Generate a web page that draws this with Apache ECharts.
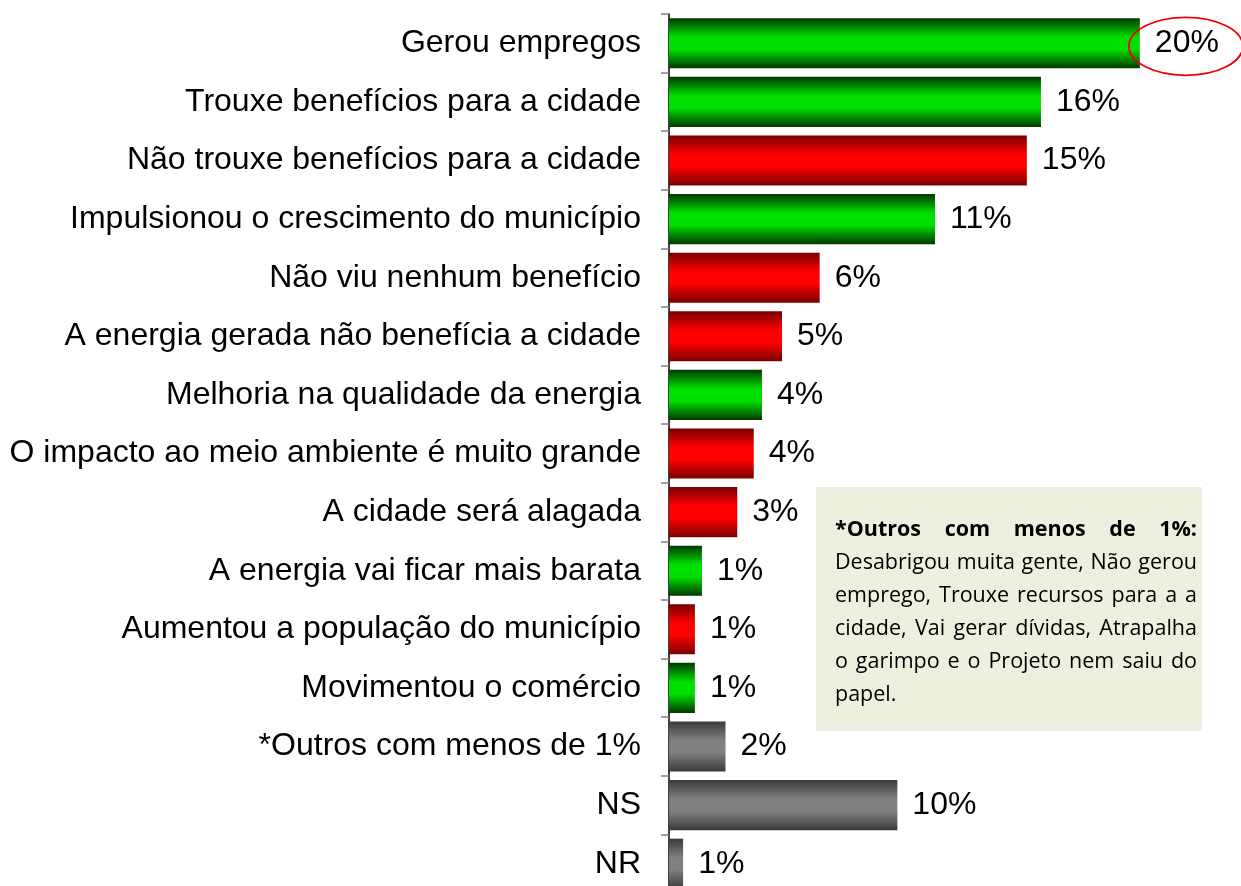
<!DOCTYPE html>
<html>
<head>
<meta charset="utf-8">
<script src="https://cdn.jsdelivr.net/npm/echarts@6/dist/echarts.min.js"></script>
<style>
  html, body { margin: 0; padding: 0; background: #ffffff; }
  #chart { width: 1241px; height: 886px; }
</style>
</head>
<body>
<div id="chart"></div>
<script>
// Benefícios / malefícios citados (percentual de respostas)
const categories = [
  'Gerou empregos',
  'Trouxe benefícios para a cidade',
  'Não trouxe benefícios para a cidade',
  'Impulsionou o crescimento do município',
  'Não viu nenhum benefício',
  'A energia gerada não benefícia a cidade',
  'Melhoria na qualidade da energia',
  'O impacto ao meio ambiente é muito grande',
  'A cidade será alagada',
  'A energia vai ficar mais barata',
  'Aumentou a população do município',
  'Movimentou o comércio',
  '*Outros com menos de 1%',
  'NS',
  'NR'
];
const values = [20.0, 15.8, 15.2, 11.3, 6.4, 4.8, 3.95, 3.6, 2.9, 1.4, 1.1, 1.1, 2.4, 9.7, 0.6];
// pos = benefício, neg = malefício, out = outros / não sabe / não respondeu
const kinds = ['pos', 'pos', 'neg', 'pos', 'neg', 'neg', 'pos', 'neg', 'neg', 'pos', 'neg', 'pos', 'out', 'out', 'out'];

const noteTitle = '*Outros com menos de 1%:';
const noteLines = [
  'Desabrigou muita gente, Não gerou',
  'emprego, Trouxe recursos para a a',
  'cidade, Vai gerar dívidas, Atrapalha',
  'o garimpo e o Projeto nem saiu do',
  'papel.'
];

function barGradient(edge, mid) {
  return new echarts.graphic.LinearGradient(0, 0, 0, 1, [
    { offset: 0, color: edge },
    { offset: 0.38, color: mid },
    { offset: 0.62, color: mid },
    { offset: 1, color: edge }
  ]);
}
const fills = {
  pos: barGradient('#003800', '#00e000'),
  neg: barGradient('#780000', '#ff0000'),
  out: barGradient('#3a3a3a', '#808080')
};

const chart = echarts.init(document.getElementById('chart'), null, { renderer: 'canvas' });

const labelFont = 'Liberation Sans, Arial, sans-serif';

chart.setOption({
  animation: false,
  backgroundColor: '#ffffff',
  grid: { left: 669, top: 14, width: 565, height: 879, containLabel: false, outerBoundsMode: 'none' },
  xAxis: {
    type: 'value', min: 0, max: 24,
    show: false
  },
  yAxis: {
    type: 'category',
    data: categories,
    inverse: true,
    axisLine: { show: true, lineStyle: { color: '#000000', width: 1.5 } },
    axisTick: { show: true, length: 8, lineStyle: { color: '#808080', width: 1.5 } },
    axisLabel: {
      margin: 28,
      color: '#000000',
      fontFamily: labelFont,
      fontSize: 32
    },
    splitLine: { show: false }
  },
  series: [{
    type: 'bar',
    barCategoryGap: '14.5%',
    data: values.map((v, i) => ({ value: v, itemStyle: { color: fills[kinds[i]] } })),
    label: {
      show: true,
      position: 'right',
      distance: 15,
      color: '#000000',
      fontFamily: labelFont,
      fontSize: 32,
      formatter: p => Math.round(p.value) + '%'
    }
  }]
});

// Caixa de observação, com texto justificado
const box = { x: 816, y: 487, w: 386, h: 244, padL: 19, padR: 5, firstLine: 530, lineGap: 33 };
const noteFamily = '"Open Sans", "Noto Sans", sans-serif';
const measureCtx = document.createElement('canvas').getContext('2d');
const avail = box.w - box.padL - box.padR;
function fontStr(size, bold) {
  return (bold ? 'bold ' : '') + size + 'px ' + noteFamily;
}
function wordWidth(w, size, bold) {
  measureCtx.font = fontStr(size, bold);
  return measureCtx.measureText(w).width;
}
// largest size at which every body line fits in the box
let noteSize = 22;
while (noteSize > 10 && noteLines.some(l => wordWidth(l, noteSize, false) > avail)) noteSize -= 0.5;

function justifiedLine(text, y, bold, justify) {
  const words = text.split(' ');
  const left = box.x + box.padL;
  const widths = words.map(w => wordWidth(w, noteSize, bold));
  const total = widths.reduce((a, b) => a + b, 0);
  const gap = (justify && words.length > 1) ? (avail - total) / (words.length - 1) : wordWidth(' ', noteSize, bold);
  const els = [];
  let x = left;
  words.forEach((w, i) => {
    els.push({
      type: 'text', x: x, y: y,
      style: {
        text: w, fill: '#000000',
        font: fontStr(noteSize, bold),
        verticalAlign: 'middle'
      }
    });
    x += widths[i] + gap;
  });
  return els;
}

const noteEls = [{
  type: 'rect',
  shape: { x: box.x, y: box.y, width: box.w, height: box.h },
  style: { fill: '#ebf1de' }
}];
noteEls.push(...justifiedLine(noteTitle, box.firstLine, true, true));
noteLines.forEach((ln, i) => {
  noteEls.push(...justifiedLine(ln, box.firstLine + box.lineGap * (i + 1), false, i < noteLines.length - 1));
});

// Destaque em elipse no maior valor
const topIdx = values.indexOf(Math.max(...values));
const endPt = chart.convertToPixel({ gridIndex: 0 }, [values[topIdx], categories[topIdx]]);

chart.setOption({
  graphic: [
    ...noteEls,
    {
      type: 'ellipse',
      shape: { cx: endPt[0] + 46, cy: endPt[1] + 3, rx: 57, ry: 29 },
      style: { fill: 'none', stroke: '#ee0000', lineWidth: 1.8 },
      z: 10
    }
  ]
});
</script>
</body>
</html>
